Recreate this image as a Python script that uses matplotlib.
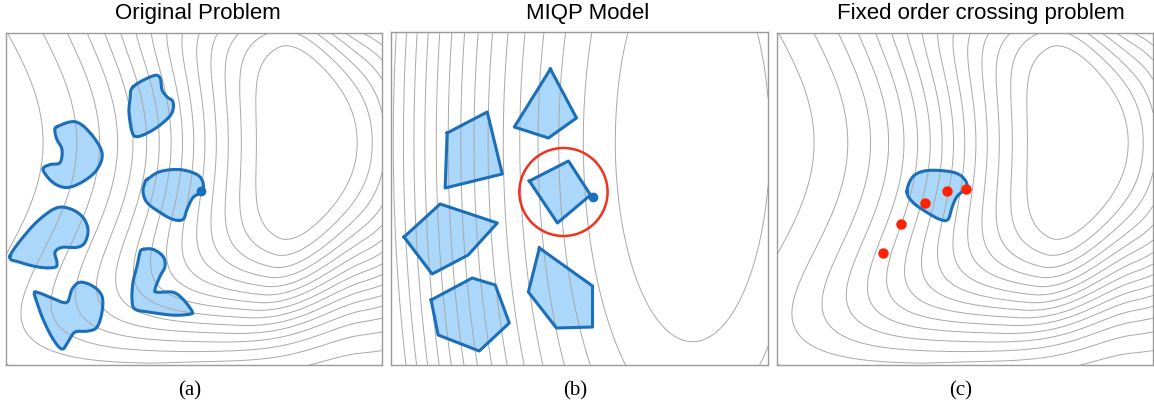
import numpy as np
import matplotlib.pyplot as plt

# panel size in pixels (data units of every panel)
W, H = 376.0, 333.0

# ---- obstacle outlines, panel a (x px from left, y px from top) ----
obst_a1 = [(51, 94), (69, 89), (84, 100), (96, 120), (91, 137), (77, 149), (61, 155),
           (47, 150), (37, 137), (44, 132), (54, 130), (56, 117), (51, 107), (49, 99)]
obst_a2 = [(127, 54), (147, 43), (154, 45), (156, 57), (161, 64), (167, 69), (166, 80),
           (157, 90), (144, 99), (131, 104), (126, 99), (123, 80), (124, 67)]
obst_a3 = [(141, 147), (154, 139), (174, 137), (191, 142), (197, 150), (196, 159),
           (187, 165), (181, 177), (177, 187), (167, 187), (154, 180), (141, 170),
           (137, 159), (139, 150)]
obst_a4 = [(4, 224), (21, 200), (37, 184), (52, 175), (66, 177), (77, 185), (82, 197),
           (79, 210), (71, 215), (56, 215), (49, 220), (51, 230), (49, 235), (34, 235),
           (14, 230)]
obst_a5 = [(29, 260), (44, 265), (56, 270), (62, 269), (66, 257), (74, 250), (87, 254),
           (96, 264), (96, 280), (91, 295), (82, 299), (69, 300), (62, 310), (56, 317),
           (47, 307), (37, 287), (31, 270)]
obst_a6 = [(137, 217), (147, 217), (157, 224), (159, 234), (154, 244), (149, 257),
           (151, 260), (167, 260), (177, 267), (186, 279), (184, 282), (167, 283),
           (144, 280), (129, 277), (126, 267), (127, 250), (131, 234), (134, 220)]
robot_a = (195, 158)

# ---- polygons, panel b ----
poly_b1 = [(56, 101), (96, 80), (111, 142), (54, 156)]
poly_b2 = [(159, 37), (185, 86), (157, 106), (123, 95)]
poly_b3 = [(138, 149), (177, 129), (199, 163), (166, 191)]
poly_b4 = [(13, 205), (49, 172), (106, 191), (77, 223), (41, 242)]
poly_b5 = [(40, 268), (81, 246), (104, 253), (118, 291), (88, 319), (47, 303)]
poly_b6 = [(148, 216), (201, 254), (201, 295), (165, 296), (137, 260)]
robot_b = (201, 165)
circle_b = (172, 160, 44)

# ---- panel c ----
obst_c = [(130, 159), (136, 144), (150, 138), (173, 139), (185, 144), (190, 154),
          (180, 164), (175, 175), (171, 187), (163, 187), (150, 180), (136, 170)]
path_c_x = [106, 124, 148, 170, 189]
path_c_y = [221, 192, 171, 158, 156]

orig_levels = np.arange(-0.905, -0.05, 0.06)
quad_levels = np.arange(1, 16)

BLUE = '#1b6fba'
FILL = '#aad7fa'
GRID = '#a8a8a8'


def cost_orig(x, t):
    # x: 0..1 left->right, t: 0..1 top->bottom
    k = 1.05 / (1 + np.exp((x - 0.55) / 0.13))
    u = x + k * (t - 0.33) ** 2
    du = u - 0.80
    dt = t - 0.33
    qx = (du / 0.30) ** 2
    s = np.clip((du + 0.06) / 0.22, 0, 1)
    c = 0.3 + 4.3 * s * s * (3 - 2 * s)
    qt = (np.abs(dt) / 0.47) ** 4 + c * dt ** 2
    return -np.exp(-0.5 * (qx + qt))


def cost_quad(x, t):
    return ((x - 0.80) / 0.205) ** 2 + ((t - 0.33) / 0.60) ** 2


def closed_spline(pts, n=24):
    P = np.asarray(pts, float)
    m = len(P)
    s = np.linspace(0, 1, n, endpoint=False)[:, None]
    out = []
    for i in range(m):
        p0, p1, p2, p3 = P[(i - 1) % m], P[i], P[(i + 1) % m], P[(i + 2) % m]
        out.append(0.5 * (2 * p1 + (-p0 + p2) * s + (2 * p0 - 5 * p1 + 4 * p2 - p3) * s ** 2
                          + (-p0 + 3 * p1 - 3 * p2 + p3) * s ** 3))
    out = np.vstack(out)
    return np.vstack([out, out[:1]])


def draw_shape(ax, pts, smooth=True):
    P = closed_spline(pts) if smooth else np.vstack([pts, pts[:1]])
    ax.fill(P[:, 0], P[:, 1], color=FILL, lw=0, zorder=1)
    ax.plot(P[:, 0], P[:, 1], color=BLUE, lw=2.2, zorder=3, solid_joinstyle='round')


def setup(ax, field, levels):
    xs = np.linspace(0, 1, 600)
    ts = np.linspace(0, 1, 540)
    X, T = np.meshgrid(xs, ts)
    ax.contour(X * W, T * H, field(X, T), levels=levels, colors=GRID,
               linewidths=0.7, linestyles='solid', negative_linestyles='solid', zorder=2)
    ax.set_xlim(0, W)
    ax.set_ylim(H, 0)
    ax.set_xticks([])
    ax.set_yticks([])
    for sp in ax.spines.values():
        sp.set_color('#9a9a9a')
        sp.set_linewidth(1.0)


fig = plt.figure(figsize=(11.54, 4.09), dpi=100)
FW, FH = 1154.0, 409.0
ax_a = fig.add_axes([6 / FW, 44 / FH, 376 / FW, 332 / FH])
ax_b = fig.add_axes([391 / FW, 44 / FH, 377 / FW, 333 / FH])
ax_c = fig.add_axes([777 / FW, 44 / FH, 376 / FW, 332 / FH])

# (a) original problem
setup(ax_a, cost_orig, orig_levels)
for ob in [obst_a1, obst_a2, obst_a3, obst_a4, obst_a5, obst_a6]:
    draw_shape(ax_a, ob)
ax_a.plot(*robot_a, 'o', color=BLUE, ms=6, zorder=4)

# (b) MIQP model
setup(ax_b, cost_quad, quad_levels)
for pg in [poly_b1, poly_b2, poly_b3, poly_b4, poly_b5, poly_b6]:
    draw_shape(ax_b, np.array(pg, float), smooth=False)
ax_b.plot(*robot_b, 'o', color=BLUE, ms=6, zorder=4)
ax_b.add_patch(plt.Circle(circle_b[:2], circle_b[2], fill=False, ec='#f0321e', lw=1.8, zorder=4))

# (c) fixed order crossing problem
setup(ax_c, cost_orig, orig_levels)
draw_shape(ax_c, obst_c)
ax_c.plot(path_c_x, path_c_y, 'o', color='#ff2200', ms=6.5, ls='none', zorder=4)

title_font = dict(fontsize=16, family='Liberation Sans', ha='center', va='baseline')
fig.text(198 / FW, 1 - 19.5 / FH, 'Original Problem', **title_font)
fig.text(588 / FW, 1 - 19.5 / FH, 'MIQP Model', **title_font)
fig.text(981 / FW, 1 - 19.5 / FH, 'Fixed order crossing problem', **title_font)

lab_font = dict(fontsize=15, family='Liberation Serif', ha='center', va='baseline')
fig.text(190 / FW, 1 - 395 / FH, '(a)', **lab_font)
fig.text(575 / FW, 1 - 395 / FH, '(b)', **lab_font)
fig.text(961 / FW, 1 - 395 / FH, '(c)', **lab_font)

fig.savefig('out.png', dpi=100)
